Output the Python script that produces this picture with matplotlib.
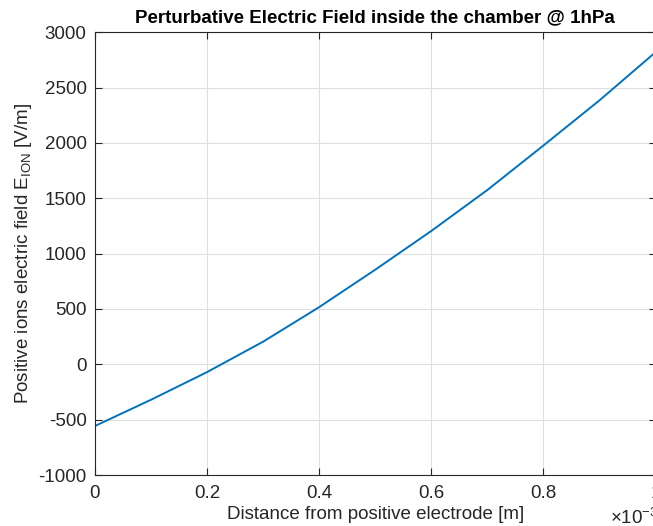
import matplotlib
matplotlib.use("Agg")
import matplotlib.pyplot as plt

# Data (x in units of 1e-3 m, y in V/m)
distance_mm = [0.0, 0.1, 0.2, 0.3, 0.4, 0.5, 0.6, 0.7, 0.8, 0.9, 1.0]
e_ion = [-557, -320, -70, 205, 517, 855, 1205, 1575, 1977, 2385, 2820]
x_ticks_mm = [0.0, 0.2, 0.4, 0.6, 0.8, 1.0]
x_tick_labels = ["0", "0.2", "0.4", "0.6", "0.8", "1"]
y_ticks = [-1000, -500, 0, 500, 1000, 1500, 2000, 2500, 3000]
y_tick_labels = ["-1000", "-500", "0", "500", "1000", "1500", "2000", "2500", "3000"]

plt.rcParams['font.family'] = ['Liberation Sans', 'DejaVu Sans']
plt.rcParams['mathtext.fontset'] = 'custom'
plt.rcParams['mathtext.rm'] = 'Liberation Sans'

W, H = 653, 526
fig = plt.figure(figsize=(W / 100, H / 100), dpi=100)
left, right, top, bottom = 95, 655.5, 32.3, 475
ax = fig.add_axes([left / W, 1 - bottom / H, (right - left) / W, (bottom - top) / H])

x_m = [v * 1e-3 for v in distance_mm]
ax.plot(x_m, e_ion, color='#0072BD', lw=1.4, solid_capstyle='round')

ax.set_xlim(0, 1e-3)
ax.set_ylim(-1000, 3000)
ax.set_xticks([v * 1e-3 for v in x_ticks_mm])
ax.set_xticklabels(x_tick_labels)
ax.set_yticks(y_ticks)
ax.set_yticklabels(y_tick_labels)

axis_col = '#262626'
for s in ax.spines.values():
    s.set_color(axis_col)
    s.set_linewidth(0.8)
ax.tick_params(direction='in', length=5, width=0.8, colors=axis_col,
               labelsize=13.5, top=True, right=True)
ax.tick_params(axis='x', pad=7)
ax.tick_params(axis='y', pad=6)
ax.grid(True, color='#dfdfdf', linewidth=0.8)
ax.set_axisbelow(True)

ax.set_title('Perturbative Electric Field inside the chamber @ 1hPa',
             fontsize=13.5, fontweight='bold', color='black', pad=7)
ax.set_xlabel('Distance from positive electrode [m]', fontsize=13.5,
              color=axis_col, labelpad=3)
ax.set_ylabel(r'Positive ions electric field E$_{\mathrm{ION}}$ [V/m]',
              fontsize=13.5, color=axis_col, labelpad=3)

fig.text(610 / W, 1 - 518 / H, r'$\times$10$^{-3}$', fontsize=13.5,
         color=axis_col, ha='left', va='center')

fig.savefig('out.png', dpi=100)
